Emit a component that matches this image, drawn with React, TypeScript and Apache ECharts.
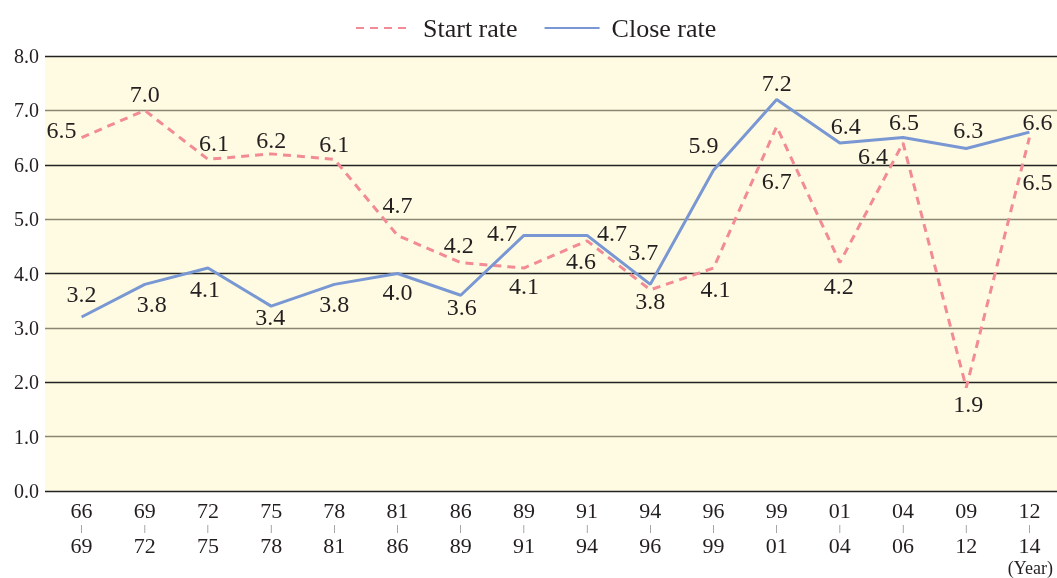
import React, { useEffect, useRef } from "react";
import * as echarts from "echarts";

const categories = [
  "66-69", "69-72", "72-75", "75-78", "78-81", "81-86", "86-89", "89-91",
  "91-94", "94-96", "96-99", "99-01", "01-04", "04-06", "09-12", "12-14",
];
const startRate = [6.5, 7.0, 6.1, 6.2, 6.1, 4.7, 4.2, 4.1, 4.6, 3.7, 4.1, 6.7, 4.2, 6.4, 1.9, 6.5];
const closeRate = [3.2, 3.8, 4.1, 3.4, 3.8, 4.0, 3.6, 4.7, 4.7, 3.8, 5.9, 7.2, 6.4, 6.5, 6.3, 6.6];
const yTicks = [0, 1, 2, 3, 4, 5, 6, 7, 8];

// label placement (position, [dx, dy]) per point
const startLabelPlace: [string, number[]][] = [
  ["left", [0, -8]], ["top", [0, 1]], ["top", [6, 1]], ["top", [0, 3]],
  ["top", [0, 2]], ["top", [0, -13]], ["top", [-2, -1]], ["bottom", [0, 1]],
  ["bottom", [-6, 3]], ["top", [-7, -21]], ["bottom", [2, 4]], ["bottom", [0, 37]],
  ["bottom", [-1, 6]], ["bottom", [-30, -4]], ["bottom", [2, -1]], ["bottom", [8, 27]],
];
const closeLabelPlace: [string, number[]][] = [
  ["top", [0, -6]], ["bottom", [7, 3]], ["bottom", [-3, 4]], ["bottom", [-1, -6]],
  ["bottom", [0, 3]], ["bottom", [0, 1]], ["bottom", [1, -5]], ["left", [-2, -2]],
  ["right", [5, -2]], ["bottom", [0, 0]], ["top", [-10, -8]], ["top", [0, 1]],
  ["top", [6, 0]], ["top", [1, 1]], ["top", [2, -1]], ["top", [8, 7]],
];

const FONT = '"Liberation Serif", "Times New Roman", serif';
const TEXT = "#231f20";
const PINK = "#f28b95";
const BLUE = "#7897d3";
const W = 1070; // inner chart width (clipped to 1057)
const EXTRA = W - 1057;

export default function App() {
  const ref = useRef<HTMLDivElement>(null);
  useEffect(() => {
    if (!ref.current) return;
    const chart = echarts.init(ref.current, undefined, { renderer: "svg" });
    const mk = (vals: number[], place: [string, number[]][]) =>
      vals.map((v, i) => ({
        value: v,
        label: { position: place[i][0] as any, offset: place[i][1] },
      }));
    const labelSeries = (name: string, vals: number[], place: [string, number[]][]) => ({
      name,
      type: "line",
      xAxisIndex: 1,
      yAxisIndex: 1,
      symbol: "circle",
      symbolSize: 0.01,
      showSymbol: true,
      silent: true,
      z: 5,
      itemStyle: { color: "rgba(0,0,0,0)" },
      lineStyle: { width: 0, opacity: 0 },
      label: {
        show: true,
        fontSize: 24,
        fontFamily: FONT,
        color: TEXT,
        distance: 5,
        formatter: (p: any) => Number(p.value).toFixed(1),
      },
      data: mk(vals, place),
    });
    chart.setOption({
      animation: false,
      legend: {
        left: 350,
        top: 10,
        itemWidth: 55,
        itemHeight: 14,
        itemGap: 26,
        itemStyle: { opacity: 0 },
        textStyle: { fontSize: 26, fontFamily: FONT, color: TEXT, padding: [0, 0, 0, 7] },
        data: ["Start rate", "Close rate"],
      },
      grid: [
        { left: 45, right: EXTRA, top: 56, bottom: 87, show: true, backgroundColor: "#fffbe2", borderWidth: 0 },
        { left: 50, width: 1011, top: 56, bottom: 87 },
      ],
      xAxis: [
        { gridIndex: 0, type: "value", show: false, min: 0, max: 1 },
        {
          gridIndex: 1,
          type: "category",
          data: categories,
          boundaryGap: true,
          axisLine: { show: false },
          axisTick: { show: false },
          axisLabel: {
            interval: 0,
            margin: 9,
            formatter: (v: string) => {
              const [a, b] = v.split("-");
              return `{n|${a}}\n{s||}\n{n|${b}}`;
            },
            rich: {
              n: { fontSize: 22, lineHeight: 20, fontFamily: FONT, color: TEXT },
              s: { fontSize: 9, lineHeight: 15, fontFamily: FONT, color: "#444" },
            },
          },
        },
      ],
      yAxis: [
        {
          gridIndex: 0,
          type: "value",
          min: yTicks[0],
          max: yTicks[yTicks.length - 1],
          interval: 1,
          axisLine: { show: false },
          axisTick: { show: false },
          axisLabel: {
            margin: 6,
            fontSize: 20,
            fontFamily: FONT,
            color: TEXT,
            formatter: (v: number) => v.toFixed(1),
          },
          splitLine: { show: true, lineStyle: { color: ["#222222", "#8a8672"], width: 1.3 } },
        },
        { gridIndex: 1, type: "value", min: 0, max: 8, show: false, splitLine: { show: false } },
      ],
      series: [
        {
          name: "Start rate",
          type: "line",
          xAxisIndex: 1,
          yAxisIndex: 1,
          symbol: "circle",
          showSymbol: false,
          color: PINK,
          lineStyle: { color: PINK, width: 3, type: [8, 6] },
          data: startRate,
        },
        {
          name: "Close rate",
          type: "line",
          xAxisIndex: 1,
          yAxisIndex: 1,
          symbol: "circle",
          showSymbol: false,
          color: BLUE,
          lineStyle: { color: BLUE, width: 3 },
          data: closeRate,
        },
        labelSeries("startLabels", startRate, startLabelPlace),
        labelSeries("closeLabels", closeRate, closeLabelPlace),
      ],
      graphic: [
        {
          type: "text",
          right: EXTRA + 4,
          top: 559,
          style: { text: "(Year)", font: `18px ${FONT}`, fill: TEXT },
        },
      ],
    });
    return () => chart.dispose();
  }, []);
  return (
    <div style={{ position: "fixed", left: 0, top: 0, width: 1057, height: 578, overflow: "hidden" }}>
      <div ref={ref} style={{ width: W, height: 578 }} />
    </div>
  );
}
